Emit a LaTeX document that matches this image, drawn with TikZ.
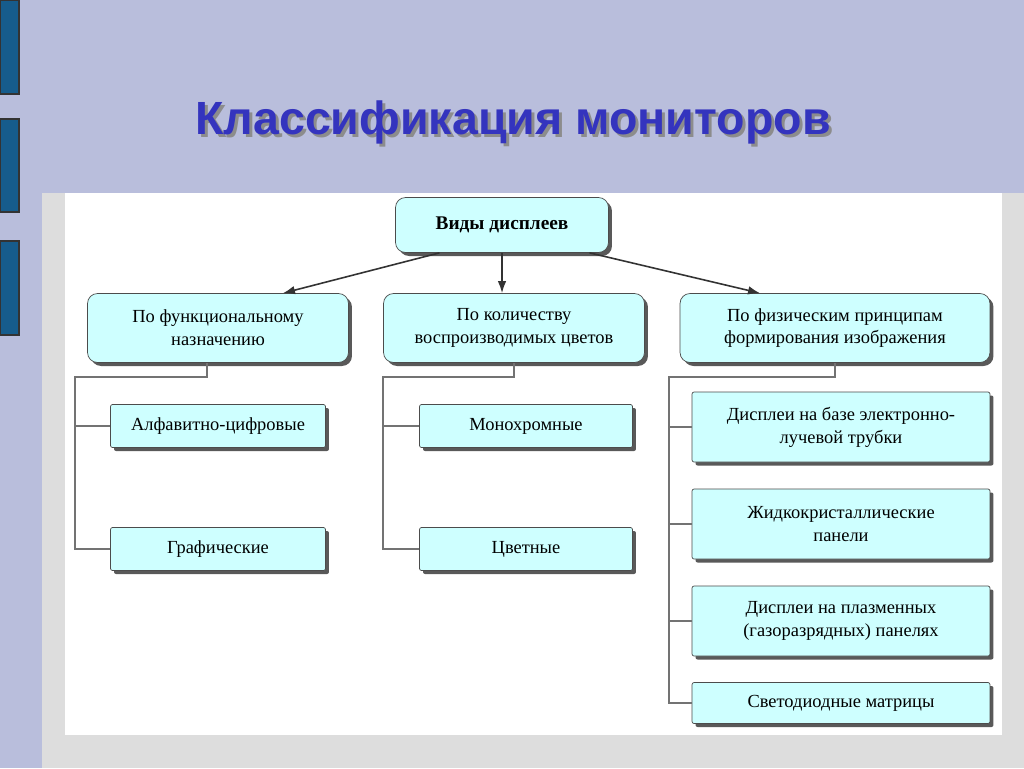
\documentclass[tikz,border=0pt]{standalone}
\usepackage{fontspec}
\setmainfont{Liberation Serif}
\newfontfamily\titlefont{Liberation Sans}
\usetikzlibrary{arrows.meta,positioning,shadows}

\definecolor{slidebg}{RGB}{185,190,220}
\definecolor{barblue}{RGB}{22,92,140}
\definecolor{panelgray}{RGB}{221,221,221}
\definecolor{boxfill}{RGB}{206,255,255}
\definecolor{titleblue}{RGB}{52,52,190}

\begin{document}
\begin{tikzpicture}[
  x=0.02cm, y=-0.02cm,
  font=\fontsize{10.5}{13}\selectfont,
  shad/.style={drop shadow={shadow xshift=0.07cm,shadow yshift=-0.07cm,fill=black!65,opacity=1}},
  topbox/.style={draw=black!70,rounded corners=0.2cm,fill=boxfill,align=center,shad,inner sep=0pt},
  leafbox/.style={draw=black!70,rounded corners=0.04cm,fill=boxfill,align=center,shad,inner sep=0pt},
  arr/.style={-{Latex[length=2.4mm,width=1.7mm]},line width=0.9pt,black!80},
  conn/.style={line width=0.8pt,black!55},
  titlefnt/.style={font=\titlefont\bfseries\fontsize{26.5}{30}\selectfont}
]
\useasboundingbox (0,0) rectangle (1024,768);

% ---- slide background ----
\fill[slidebg] (0,0) rectangle (1024,768);
\foreach \ya/\yb in {0/94,119/212,241/335}
  \draw[fill=barblue,draw=black!80,line width=0.6pt] (0,\ya) rectangle (19,\yb);
\fill[panelgray] (42,193) rectangle (1024,768);
\fill[white] (65,193) rectangle (1002,735);

% ---- title ----
\node[titlefnt,text=black!45] at (516,125) {Классификация мониторов};
\node[titlefnt,text=titleblue] (title) at (513,122) {Классификация мониторов};

% ---- top levels ----
\node[topbox,minimum width=4.26cm,minimum height=1.1cm,font=\bfseries\fontsize{11}{13}\selectfont] (root) at (502,225) {Виды дисплеев};
\node[topbox,minimum width=5.22cm,minimum height=1.38cm] (func) at (218,328) {По функциональному\\назначению};
\node[topbox,minimum width=5.22cm,minimum height=1.38cm] (colr) at (514,328) {По количеству\\воспроизводимых цветов};
\node[topbox,minimum width=6.2cm,minimum height=1.38cm] (phys) at (835,328) {По физическим принципам\\формирования изображения};
\draw[arr] ([xshift=-1.25cm]root.south) -- ([xshift=1.3cm]func.north);
\draw[arr] (root.south) -- (root.south |- colr.north);
\draw[arr] ([xshift=1.75cm]root.south) -- ([xshift=-1.5cm]phys.north);

% ---- leaves ----
\node[leafbox,minimum width=4.3cm,minimum height=0.86cm] (alnum) at (218,426) {Алфавитно-цифровые};
\node[leafbox,minimum width=4.3cm,minimum height=0.86cm] (graph) at (218,549) {Графические};
\node[leafbox,minimum width=4.26cm,minimum height=0.86cm] (mono) at (526,426) {Монохромные};
\node[leafbox,minimum width=4.26cm,minimum height=0.86cm] (multi) at (526,549) {Цветные};
\node[leafbox,minimum width=5.96cm,minimum height=1.4cm] (crt) at (841,427) {Дисплеи на базе электронно-\\лучевой трубки};
\node[leafbox,minimum width=5.96cm,minimum height=1.4cm] (lcd) at (841,524) {Жидкокристаллические\\панели};
\node[leafbox,minimum width=5.96cm,minimum height=1.4cm] (pdp) at (841,621) {Дисплеи на плазменных\\(газоразрядных) панелях};
\node[leafbox,minimum width=5.96cm,minimum height=0.82cm] (led) at (841,703) {Светодиодные матрицы};

% ---- tree lines ----
\coordinate (fj) at (75,377);
\coordinate (cj) at (383,377);
\coordinate (pj) at (669,377);
\draw[conn] ([xshift=-0.22cm]func.south) |- (fj) |- (graph.west);
\draw[conn] (fj |- alnum.west) -- (alnum.west);
\draw[conn] (colr.south) |- (cj) |- (multi.west);
\draw[conn] (cj |- mono.west) -- (mono.west);
\draw[conn] (phys.south) |- (pj) |- (led.west);
\foreach \n in {crt,lcd,pdp}
  \draw[conn] (pj |- \n.west) -- (\n.west);
\end{tikzpicture}
\end{document}
